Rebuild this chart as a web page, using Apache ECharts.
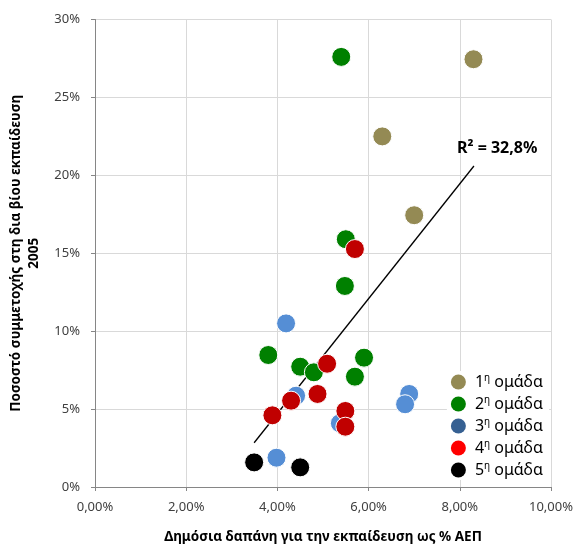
<!DOCTYPE html>
<html><head><meta charset="utf-8">
<script src="https://cdn.jsdelivr.net/npm/echarts@6/dist/echarts.min.js"></script>
<style>html,body{margin:0;padding:0;background:#fff}#c{width:576px;height:546px}</style>
</head><body><div id="c"></div>
<script>
const groupNames = ['1', '2', '3', '4', '5'];
const group1 = [[8.30,27.45],[6.30,22.5],[7.00,17.44]];
const group2 = [[5.40,27.6],[5.50,15.9],[5.48,12.9],[3.80,8.47],[4.50,7.72],[4.80,7.36],[5.90,8.30],[5.70,7.08]];
const group3 = [[4.19,10.5],[4.41,5.86],[5.37,4.09],[3.98,1.88],[6.89,5.97],[6.80,5.31]];
const group4 = [[5.70,15.27],[5.09,7.91],[4.30,5.54],[4.88,5.97],[3.89,4.60],[5.49,4.88],[5.49,3.87]];
const group5 = [[3.49,1.58],[4.50,1.26]];
const trendX = [3.49, 8.31];
const trendY = [2.84, 20.6];
const r2Label = 'R² = 32,8%';
const xTicks = [0, 2, 4, 6, 8, 10];
const yTicks = [0, 5, 10, 15, 20, 25, 30];

const groups = [group1, group2, group3, group4, group5];
const pointColors = ['#948A54', '#008000', '#558ED5', '#C00000', '#000000'];
const legendColors = ['#948A54', '#008000', '#366092', '#FF0000', '#000000'];
const FONT = 'Noto Sans';
const legendName = n => n + 'η ομάδα';

const series = groups.map((g, i) => ({
  name: legendName(groupNames[i]),
  type: 'scatter',
  data: g,
  symbolSize: 19,
  itemStyle: { color: pointColors[i], borderColor: '#fff', borderWidth: 1, opacity: 1 },
  emphasis: { disabled: true }
}));
series.unshift({
  type: 'line',
  data: trendX.map((x, i) => [x, trendY[i]]),
  symbol: 'none',
  lineStyle: { color: '#000', width: 1.3 },
  silent: true,
  z: 1,
  endLabel: {
    show: true,
    formatter: r2Label,
    fontFamily: FONT, fontWeight: 'bold', fontSize: 16, color: '#000',
    offset: [-25, -18]
  }
});

const chart = echarts.init(document.getElementById('c'), null, { renderer: 'canvas' });
chart.setOption({
  animation: false,
  backgroundColor: '#fff',
  grid: { left: 95, right: 25, top: 19.5, bottom: 59, containLabel: false, outerBoundsMode: 'none' },
  xAxis: {
    type: 'value', min: xTicks[0], max: xTicks[xTicks.length - 1], interval: 2,
    name: 'Δημόσια δαπάνη για την εκπαίδευση ως % ΑΕΠ',
    nameLocation: 'middle', nameGap: 43,
    nameTextStyle: { fontFamily: FONT, fontWeight: 'bold', fontSize: 13.5, color: '#000' },
    axisLine: { show: true, lineStyle: { color: '#868686', width: 1 } },
    axisTick: { show: true, length: 4, lineStyle: { color: '#868686' } },
    axisLabel: { fontFamily: FONT, fontSize: 13, color: '#404040', margin: 14,
      formatter: v => v.toFixed(2).replace('.', ',') + '%' },
    splitLine: { show: true, lineStyle: { color: '#D9D9D9', width: 1 } }
  },
  yAxis: {
    type: 'value', min: yTicks[0], max: yTicks[yTicks.length - 1], interval: 5,
    name: 'Ποσοστό συμμετοχής στη δια βίου εκπαίδευση\n2005',
    nameLocation: 'middle', nameGap: 50, nameRotate: 90,
    nameTextStyle: { fontFamily: FONT, fontWeight: 'bold', fontSize: 13.5, color: '#000', lineHeight: 18 },
    axisLine: { show: true, lineStyle: { color: '#868686', width: 1 } },
    axisTick: { show: true, length: 4, lineStyle: { color: '#868686' } },
    axisLabel: { fontFamily: FONT, fontSize: 13, color: '#404040', margin: 15,
      formatter: v => v + '%' },
    splitLine: { show: true, lineStyle: { color: '#D9D9D9', width: 1 } }
  },
  legend: {
    orient: 'vertical', right: 27, top: 371,
    backgroundColor: '#fff', padding: [2, 6, 2, 4],
    itemWidth: 15, itemHeight: 15, itemGap: 5,
    icon: 'circle',
    data: groups.map((g, i) => ({ name: legendName(groupNames[i]), itemStyle: { color: legendColors[i], borderWidth: 0 } })),
    formatter: name => {
      const n = name.charAt(0);
      return n + '{sup|η} ομάδα';
    },
    textStyle: { fontFamily: FONT, fontSize: 16, color: '#000', padding: [0, 0, 0, 4],
      rich: { sup: { fontFamily: FONT, fontSize: 10, verticalAlign: 'top', padding: [0, 0, 8, 0], color: '#000' } } }
  },
  series: series
});
</script></body></html>
